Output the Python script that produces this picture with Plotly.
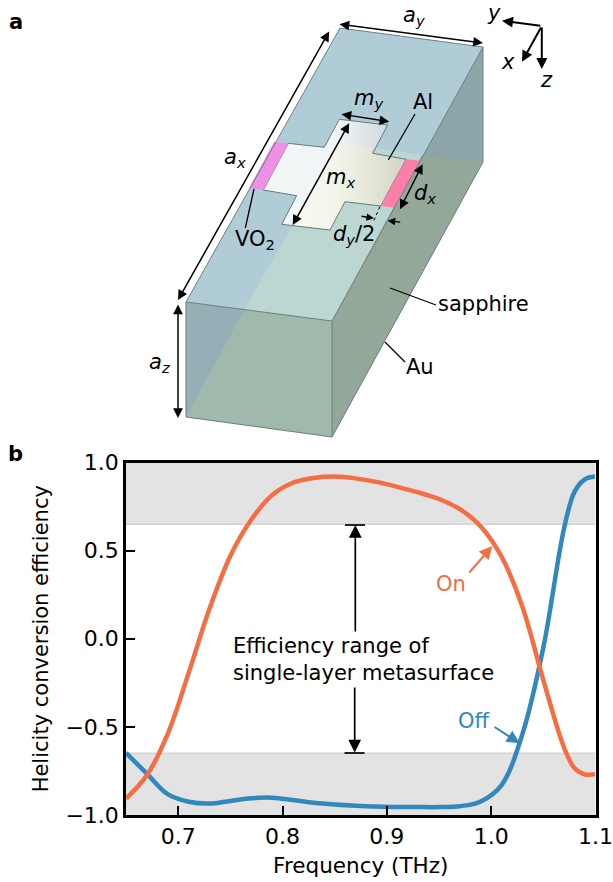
import plotly.graph_objects as go

W, H = 613, 882
FONT = "DejaVu Sans"

# ---- data -----
on_freq = [0.65,0.67,0.69,0.71,0.73,0.75,0.77,0.79,0.81,0.83,0.85,0.87,0.89,0.91,0.93,0.95,0.97,0.99,1.01,1.03,1.05,1.07,1.08,1.09,1.0995]
on_eff = [-0.907,-0.775,-0.54,-0.195,0.17,0.47,0.675,0.815,0.885,0.912,0.92,0.91,0.89,0.862,0.83,0.793,0.735,0.637,0.465,0.18,-0.235,-0.62,-0.735,-0.77,-0.768]
off_freq = [0.65,0.67,0.69,0.71,0.73,0.75,0.77,0.79,0.81,0.83,0.85,0.87,0.89,0.91,0.93,0.95,0.97,0.99,1.01,1.03,1.05,1.07,1.08,1.09,1.0995]
off_eff = [-0.648,-0.765,-0.882,-0.925,-0.935,-0.92,-0.905,-0.902,-0.915,-0.93,-0.94,-0.947,-0.952,-0.955,-0.955,-0.955,-0.95,-0.923,-0.83,-0.54,-0.05,0.63,0.835,0.905,0.92]
x_ticks = [0.7,0.8,0.9,1.0,1.1]
x_labels = ["0.7","0.8","0.9","1.0","1.1"]
y_ticks = [-1.0,-0.5,0.0,0.5,1.0]
y_labels = ["\u22121.0","\u22120.5","0.0","0.5","1.0"]
band_low, band_high = -0.65, 0.65

# ---- plot rectangle (pixels) ----
L, R, T, B = 126, 595.5, 462.5, 815

def px(x): return x / W
def py(y): return 1 - y / H

shapes, annos = [], []

def poly(pts, fill, line=None, lw=1):
    d = "M " + " L ".join(f"{px(x):.5f},{py(y):.5f}" for x, y in pts) + " Z"
    shapes.append(dict(type="path", path=d, xref="paper", yref="paper", fillcolor=fill,
                       line=dict(color=line or "rgba(0,0,0,0)", width=lw if line else 0), layer="below"))

def seg(a, b, color="#000000", lw=1.3, dash=None):
    shapes.append(dict(type="line", x0=px(a[0]), y0=py(a[1]), x1=px(b[0]), y1=py(b[1]),
                       xref="paper", yref="paper", line=dict(color=color, width=lw, dash=dash or "solid"), layer="above"))

def arrow(a, b, both=False, color="#000000", lw=1.5, size=1.3):
    annos.append(dict(x=px(b[0]), y=py(b[1]), xref="paper", yref="paper", ax=a[0]-b[0], ay=a[1]-b[1],
                      axref="pixel", ayref="pixel", text="", showarrow=True, arrowhead=2, startarrowhead=2,
                      arrowside="end+start" if both else "end", arrowsize=size, startarrowsize=size,
                      arrowwidth=lw, arrowcolor=color))

def label(x, y, t, size=21, color="#000000", align="center", xanchor="center"):
    annos.append(dict(x=px(x), y=py(y), xref="paper", yref="paper", text=t, showarrow=False, align=align,
                      xanchor=xanchor, yanchor="middle", font=dict(family=FONT, size=size, color=color)))

# ---- clipping helpers for the gradient on the Al cross ----
def clip(pts, a, b, c):
    out = []
    n = len(pts)
    for i in range(n):
        p, q = pts[i], pts[(i+1) % n]
        fp, fq = a*p[0]+b*p[1]-c, a*q[0]+b*q[1]-c
        if fp >= 0: out.append(p)
        if (fp >= 0) != (fq >= 0):
            t = fp / (fp - fq)
            out.append((p[0]+t*(q[0]-p[0]), p[1]+t*(q[1]-p[1])))
    return out

def halfplane(p, q, inside):
    a, b = q[1]-p[1], p[0]-q[0]
    c = a*p[0]+b*p[1]
    if a*inside[0]+b*inside[1]-c < 0:
        a, b, c = -a, -b, -c
    return a, b, c

def mix(stops, x):
    for (x0, c0), (x1, c1) in zip(stops, stops[1:]):
        if x <= x1:
            t = max(0, (x-x0)/(x1-x0))
            return "rgb(" + ",".join(str(round(u+(v-u)*t)) for u, v in zip(c0, c1)) + ")"
    return "rgb(" + ",".join(map(str, stops[-1][1])) + ")"

def strips(pts, stops, x0=245, x1=425, step=6):
    x = x0
    while x < x1:
        s = clip(clip(pts, 1, 0, x), -1, 0, -(x+step+0.7))
        if len(s) >= 3:
            poly(s, mix(stops, x+step/2))
        x += step

# ---- diagram geometry (pixels) ----
bTL, bTR, bBR = (340,28), (483,47), (483,162)
fTL, fTR, fBL, fBR = (186,302), (332,321), (186,417), (332,437)
plane_back_l, plane_back_r, plane_mid_r = (340,143), (483,162), (422,155)
top_cross = (244,310)

poly([bTL,bTR,fTR,fTL], "#b0cdd7")
poly([bTR,bBR,fBR,fTR], "#8ba5a8")
poly([fTL,fTR,fBR,fBL], "#94b0b6")
# gold back plane seen through the box
poly([top_cross, plane_back_l, plane_mid_r, fTR], "#bcd6d2")
poly([plane_mid_r, bBR, fBR, fTR], "#93a899")
poly([top_cross, fTR, fBR, fBL], "#9fb9ad")

cross = [(288.3,143.3),(324.3,147.3),(339.3,119.3),(387.7,125),(372.7,153.3),(406,159.3),
         (380.7,206),(345,201.7),(330,230),(281.7,224.3),(296.7,195.7),(263.3,190)]

inside_ref = (340, 190)
a1 = halfplane(fBL, plane_back_l, inside_ref)
a2 = halfplane(plane_back_l, plane_back_r, inside_ref)
cross_green = clip(clip(cross, *a1), *a2)
poly(cross, "#f1f4f4")
strips(cross, [(260,(245,246,245)),(335,(240,245,247)),(390,(207,217,222))])
strips(cross_green, [(282,(252,253,245)),(340,(240,244,230)),(406,(212,214,199))])
poly(cross, "rgba(0,0,0,0)", "#67787a", 1)

poly([(274,141.7),(288.3,143.3),(263.3,190),(249,188.3)], "#ee91e4")
poly([(406,159.3),(420.7,160.7),(395,207.7),(380.7,206)], "#fb7fa9")

# box edges
for a, b in [(bTL,bTR),(bTR,fTR),(fTR,fTL),(fTL,bTL),(bTR,bBR),(bBR,fBR),(fBR,fBL),(fBL,fTL),(fTR,fBR)]:
    shapes.append(dict(type="line", x0=px(a[0]), y0=py(a[1]), x1=px(b[0]), y1=py(b[1]), xref="paper", yref="paper",
                       line=dict(color="#6d7f80", width=1), layer="below"))

# dimension arrows
arrow((330,30),(178,300),both=True)
arrow((338,24),(483,43),both=True)
arrow((178,303),(178,418),both=True)
arrow((340,114),(389.3,121.7),both=True)
arrow((350,121.7),(292.7,225),both=True)
arrow((423.3,162.7),(400,209.3),both=True)
arrow((360,216),(374,218.3),size=1.0)
arrow((401.7,222.3),(387.7,220.7),size=1.0)
seg((380,206.7),(373.3,221.7),lw=1,dash="dot")
# leaders
seg((254,189),(245.3,228))
seg((415,114),(388.3,160))
seg((390,288),(436,305))
seg((385,342),(405,362))
# triad
O = (541.8,26)
arrow(O,(502,20.7),lw=2,size=1.1)
arrow(O,(522,61.7),lw=2,size=1.1)
arrow(O,(541.8,69),lw=2,size=1.1)

# diagram labels
label(16,22,"<b>a</b>",size=21)
label(15,454,"<b>b</b>",size=21)
label(414,16,"<i>a</i><sub><i>y</i></sub>")
label(235,158,"<i>a</i><sub><i>x</i></sub>")
label(159,363,"<i>a</i><sub><i>z</i></sub>")
label(368,99,"<i>m</i><sub><i>y</i></sub>")
label(340,178,"<i>m</i><sub><i>x</i></sub>")
label(425,194,"<i>d</i><sub><i>x</i></sub>")
label(354,235,"<i>d</i><sub><i>y</i></sub>/2")
label(423,102,"Al")
label(255,240,"VO<sub>2</sub>")
label(435.5,304,"sapphire",xanchor="left")
label(420,367,"Au")
label(494,13,"<i>y</i>")
label(508,62,"<i>x</i>")
label(546,80,"<i>z</i>")

# ---- chart annotations -----
ON_C, OFF_C = "#f46d43", "#3288bd"
label(231,659,"Efficiency range of<br>single-layer metasurface",size=21,align="left",xanchor="left")
label(451.3,583.5,"On",size=21,color=ON_C)
label(473.7,721,"Off",size=21,color=OFF_C)
arrow((468,574),(492.3,546),color=ON_C,lw=2)
arrow((493,726),(519.7,743.3),color=OFF_C,lw=2)
arrow((355.3,633),(355.3,525),lw=1.7,size=1.5)
arrow((354.7,686),(354.7,752.5),lw=1.7,size=1.5)
seg((345,525),(365,525),lw=1.7)
seg((344.5,753),(364.5,753),lw=1.7)

# grey bands, in data coordinates
for y0, y1 in [(band_high, y_ticks[-1]), (y_ticks[0], band_low)]:
    shapes.append(dict(type="rect", xref="x", yref="y", x0=0.65, x1=1.1, y0=y0, y1=y1,
                       fillcolor="#e3e3e3", line=dict(width=0), layer="below"))
for y in (band_low, band_high):
    shapes.append(dict(type="line", xref="x", yref="y", x0=0.65, x1=1.1, y0=y, y1=y,
                       line=dict(color="#d3d3d3", width=1.5), layer="below"))

fig = go.Figure()
fig.add_trace(go.Scatter(x=off_freq, y=off_eff, mode="lines", line=dict(color=OFF_C, width=4.5, shape="spline", smoothing=1.0)))
fig.add_trace(go.Scatter(x=on_freq, y=on_eff, mode="lines", line=dict(color=ON_C, width=4.5, shape="spline", smoothing=1.0)))

axis = dict(showgrid=False, zeroline=False, showline=True, linecolor="#000000", linewidth=2.5, mirror=True,
            ticks="inside", ticklen=9, tickwidth=1.7, tickcolor="#000000",
            tickfont=dict(family=FONT, size=22, color="#000000"))
fig.update_layout(
    width=W, height=H, margin=dict(l=0, r=0, t=0, b=0, pad=0, autoexpand=False),
    paper_bgcolor="#ffffff", plot_bgcolor="rgba(0,0,0,0)", showlegend=False,
    shapes=shapes, annotations=annos,
    xaxis=dict(axis, domain=[L/W, R/W], range=[0.65, 1.1], tickvals=x_ticks, ticktext=x_labels,
               title=dict(text="Frequency (THz)", font=dict(family=FONT, size=21.5, color="#000000"), standoff=10)),
    yaxis=dict(axis, domain=[1-B/H, 1-T/H], range=[-1, 1], tickvals=y_ticks, ticktext=y_labels,
               title=dict(text="Helicity conversion efficiency", font=dict(family=FONT, size=21, color="#000000"), standoff=12)),
)
fig.write_html("out.html", post_script="document.body.style.margin='0';", config=dict(displayModeBar=False))
